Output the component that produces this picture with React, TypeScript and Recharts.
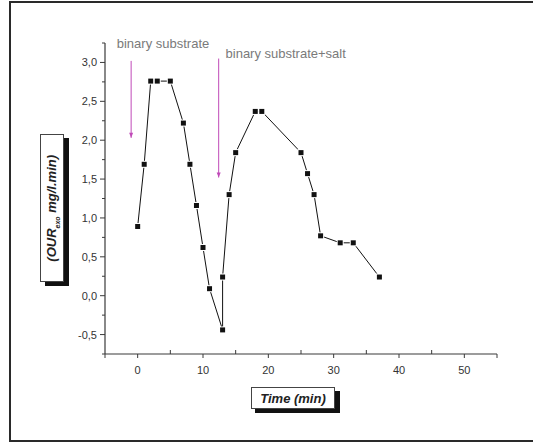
import React from "react"
import {
  LineChart,
  Line,
  XAxis,
  YAxis,
  ReferenceLine,
  ReferenceDot,
} from "recharts"

// time (min) and exogenous OUR (mg/l.min)
const times = [0, 1, 2, 3, 5, 7, 8, 9, 10, 11, 13, 13, 14, 15, 18, 19, 25, 26, 27, 28, 31, 33, 37]
const ourExo = [0.89, 1.69, 2.76, 2.76, 2.76, 2.22, 1.69, 1.16, 0.62, 0.09, -0.44, 0.24, 1.3, 1.84, 2.37, 2.37, 1.84, 1.57, 1.3, 0.77, 0.68, 0.68, 0.24]

const xTicks = [-5, 0, 5, 10, 15, 20, 25, 30, 35, 40, 45, 50, 55]
const yTicks = [-0.75, -0.5, -0.25, 0, 0.25, 0.5, 0.75, 1, 1.25, 1.5, 1.75, 2, 2.25, 2.5, 2.75, 3, 3.25]

// arrows: [x, yStart, yEnd]
const arrows = [
  [-1, 3.02, 2.03],
  [12.4, 3.05, 1.52],
]
const notes = [
  { x: -3.2, y: 3.24, text: "binary substrate" },
  { x: 13.45, y: 3.12, text: "binary substrate+salt" },
]

const data = times.map((t, i) => ({ t, v: ourExo[i] }))

const FONT = "'Liberation Sans', Arial, sans-serif"
const AXIS = "#3a3a3a"

function XTick(props: any) {
  const { x, y, payload } = props
  const v = payload.value
  const major = v % 10 === 0
  const edge = v === -5 || v === 55
  return (
    <g>
      {major || edge ? (
        <line x1={x} x2={x} y1={y} y2={y + 4} stroke={AXIS} />
      ) : (
        <line x1={x} x2={x} y1={y} y2={y - 4} stroke={AXIS} />
      )}
      {major && (
        <text x={x} y={y + 20} textAnchor="middle" fontSize={11} fill="#333" fontFamily={FONT}>
          {v}
        </text>
      )}
    </g>
  )
}

function YTick(props: any) {
  const { x, y, payload } = props
  const v = payload.value
  const major = Math.abs((v * 2) % 1) < 1e-9
  return (
    <g>
      <line x1={x} x2={x - (major ? 5 : 3)} y1={y} y2={y} stroke={AXIS} />
      {major && v < 3.2 && v > -0.7 && (
        <text x={x - 8} y={y + 4} textAnchor="end" fontSize={11} fill="#333" fontFamily={FONT}>
          {v.toFixed(1).replace(".", ",")}
        </text>
      )}
    </g>
  )
}

function SquareDot(props: any) {
  const { cx, cy } = props
  if (cx == null || cy == null) return null
  return (
    <g>
      <rect x={cx - 3.5} y={cy - 3.5} width={7} height={7} fill="#fff" />
      <rect x={cx - 2.5} y={cy - 2.5} width={5} height={5} fill="#111" />
    </g>
  )
}

function Arrow(p: any) {
  const { x1, y1, x2, y2 } = p
  return (
    <g>
      <line x1={x1} y1={y1} x2={x2} y2={y2} stroke="#c04ab8" strokeWidth={1} />
      <path d={`M${x2 - 2},${y2 - 5} L${x2 + 2},${y2 - 5} L${x2},${y2} Z`} fill="#c04ab8" />
    </g>
  )
}

export default function App() {
  return (
    <div style={{ position: "absolute", left: 0, top: 0, width: 533, height: 442, background: "#fff", overflow: "hidden" }}>
      <div
        style={{
          position: "absolute",
          left: 9,
          top: 1,
          width: 540,
          height: 437,
          border: "2px solid #2a2a2a",
        }}
      />
      <LineChart
        width={533}
        height={442}
        data={data}
        margin={{ top: 43, right: 36, bottom: 58, left: 45 }}
        style={{ position: "absolute", left: 0, top: 0 }}
      >
        <XAxis
          type="number"
          dataKey="t"
          domain={[-5, 55]}
          ticks={xTicks}
          interval={0}
          height={30}
          axisLine={{ stroke: AXIS, strokeWidth: 1.2 }}
          tickLine={false}
          tickSize={0}
          tickMargin={0}
          tick={<XTick />}
        />
        <YAxis
          type="number"
          dataKey="v"
          domain={[-0.75, 3.25]}
          ticks={yTicks}
          interval={0}
          width={60}
          axisLine={{ stroke: AXIS, strokeWidth: 1.2 }}
          tickLine={false}
          tickSize={0}
          tickMargin={0}
          tick={<YTick />}
        />
        {arrows.map(([x, ya, yb], i) => (
          <ReferenceLine
            key={i}
            segment={[{ x, y: ya }, { x, y: yb }]}
            ifOverflow="visible"
            shape={(p: any) => <Arrow {...p} />}
          />
        ))}
        {notes.map((n, i) => (
          <ReferenceDot
            key={i}
            x={n.x}
            y={n.y}
            ifOverflow="visible"
            shape={(p: any) => (
              <text x={p.cx} y={p.cy + 4.5} fontSize={13} fill="#7a7a7a" fontFamily={FONT}>
                {n.text}
              </text>
            )}
          />
        ))}
        <Line
          type="linear"
          dataKey="v"
          stroke="#111"
          strokeWidth={1}
          dot={<SquareDot />}
          activeDot={false}
          isAnimationActive={false}
        />
      </LineChart>

      {/* y axis title box with shadow */}
      <div style={{ position: "absolute", left: 45, top: 138, width: 24, height: 148, background: "#111" }} />
      <div
        style={{
          position: "absolute",
          left: 40,
          top: 134,
          width: 22,
          height: 146,
          background: "#fff",
          border: "1px solid #444",
          display: "flex",
          alignItems: "center",
          justifyContent: "center",
        }}
      >
        <div
          style={{
            transform: "rotate(-90deg)",
            whiteSpace: "nowrap",
            fontFamily: FONT,
            fontWeight: "bold",
            fontStyle: "italic",
            fontSize: 13,
            color: "#222",
          }}
        >
          (OUR<sub style={{ fontSize: 7 }}>exo</sub> mg/l.min)
        </div>
      </div>

      {/* x axis title box with shadow */}
      <div style={{ position: "absolute", left: 255, top: 391, width: 85, height: 22, background: "#111" }} />
      <div
        style={{
          position: "absolute",
          left: 251,
          top: 387,
          width: 82,
          height: 20,
          background: "#fff",
          border: "1px solid #444",
          display: "flex",
          alignItems: "center",
          justifyContent: "center",
          fontFamily: FONT,
          fontWeight: "bold",
          fontStyle: "italic",
          fontSize: 13,
          color: "#222",
        }}
      >
        Time (min)
      </div>
    </div>
  )
}
